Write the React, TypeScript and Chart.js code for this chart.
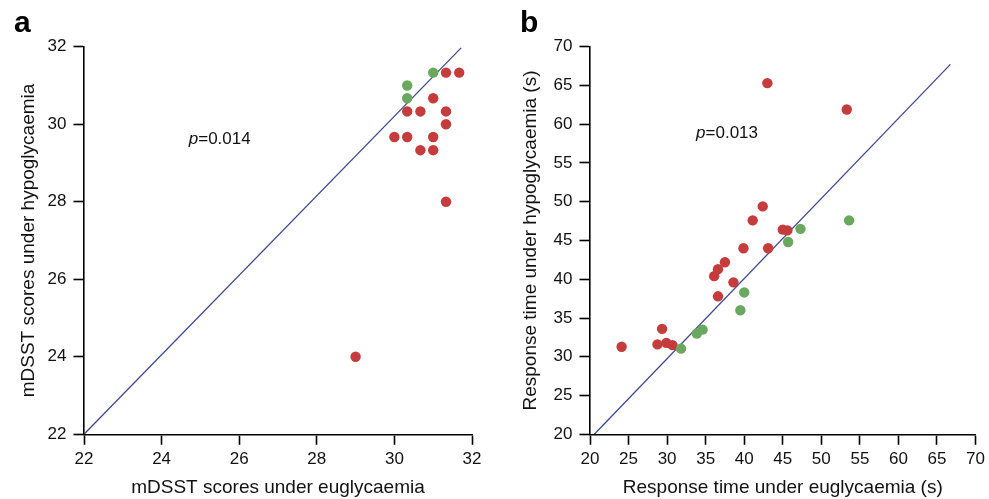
import React, { useEffect, useRef } from "react";
import { Chart, registerables } from "chart.js";

Chart.register(...registerables);

const FONT = "'Liberation Sans', Arial, Helvetica, sans-serif";
const RED = "#c43c3c";
const GREEN = "#6aa860";
const LINE = "#3f4a8c";

// Panel a: mDSST scores
const aRedEu = [31.33, 31.67, 31.0, 30.33, 30.67, 31.33, 31.33, 30.0, 30.33, 31.0, 30.67, 31.0, 31.33, 29.0];
const aRedHypo = [31.33, 31.33, 30.67, 30.33, 30.33, 30.33, 30.0, 29.67, 29.67, 29.67, 29.33, 29.33, 28.0, 24.0];
const aGreenEu = [30.33, 30.33, 31.0];
const aGreenHypo = [31.0, 30.67, 31.33];
const aLineX = [22, 31.72];
const aLineY = [22, 31.97];
const aTicks = [22, 24, 26, 28, 30, 32];

// Panel b: response time
const bRedEu = [43.0, 53.3, 42.4, 41.1, 45.0, 45.6, 39.9, 43.1, 37.5, 36.6, 36.1, 38.6, 36.6, 29.35, 28.75, 29.9, 30.7, 24.1];
const bRedHypo = [65.3, 61.9, 49.4, 47.6, 46.4, 46.3, 44.0, 44.0, 42.2, 41.3, 40.4, 39.6, 37.8, 33.6, 31.6, 31.8, 31.5, 31.3];
const bGreenEu = [47.3, 45.7, 40.0, 39.5, 34.6, 33.85, 31.8, 53.6];
const bGreenHypo = [46.5, 44.8, 38.3, 36.0, 33.5, 33.0, 31.05, 47.6];
const bLineX = [20.56, 66.74];
const bLineY = [20, 67.72];
const bTicks = [20, 25, 30, 35, 40, 45, 50, 55, 60, 65, 70];

const zip = (xs: number[], ys: number[]) => xs.map((x, i) => ({ x, y: ys[i] }));

type PanelCfg = {
  width: number;
  yAxisWidth: number;
  padRight: number;
  yTitlePad: number;
  label: string;
  labelX: number;
  pText: string;
  pX: number;
  pY: number;
  redEu: number[];
  redHypo: number[];
  greenEu: number[];
  greenHypo: number[];
  lineX: number[];
  lineY: number[];
  ticks: number[];
  xTitle: string;
  yTitle: string;
};

function Panel({ cfg }: { cfg: PanelCfg }) {
  const ref = useRef<HTMLCanvasElement | null>(null);
  useEffect(() => {
    if (!ref.current) return;
    const min = cfg.ticks[0];
    const max = cfg.ticks[cfg.ticks.length - 1];
    const step = cfg.ticks[1] - cfg.ticks[0];
    const annot = {
      id: "annot",
      afterDraw(chart: any) {
        const ctx = chart.ctx;
        ctx.save();
        ctx.fillStyle = "#000";
        ctx.font = `bold 30px ${FONT}`;
        ctx.textBaseline = "alphabetic";
        ctx.textAlign = "left";
        ctx.fillText(cfg.label, cfg.labelX, 31.5);
        const px = chart.scales.x.getPixelForValue(cfg.pX);
        const py = chart.scales.y.getPixelForValue(cfg.pY);
        ctx.textBaseline = "middle";
        ctx.fillStyle = "#111";
        ctx.font = `italic 17px ${FONT}`;
        ctx.fillText("p", px, py);
        const w = ctx.measureText("p").width;
        ctx.font = `17px ${FONT}`;
        ctx.fillText(cfg.pText, px + w, py);
        ctx.restore();
      },
    };
    const axisCommon = (title: string) => ({
      type: "linear" as const,
      min,
      max,
      ticks: {
        stepSize: step,
        color: "#111",
        font: { size: 17, family: FONT },
        padding: 6,
      },
      grid: {
        drawOnChartArea: false,
        drawTicks: true,
        tickLength: 10.5,
        tickColor: "#000",
        tickWidth: 1.6,
        color: "#000",
      },
      border: { display: true, color: "#000", width: 1.6 },
      title: {
        display: true,
        text: title,
        color: "#111",
        font: { size: 19, family: FONT },
      },
    });
    const xAxis: any = axisCommon(cfg.xTitle);
    xAxis.ticks.padding = 4;
    xAxis.title.padding = { top: 0, bottom: 0 };
    xAxis.afterFit = (s: any) => {
      s.height = 64.7;
    };
    const yAxis: any = axisCommon(cfg.yTitle);
    yAxis.ticks.padding = 7;
    yAxis.title.padding = { top: cfg.yTitlePad, bottom: 0 };
    yAxis.afterFit = (s: any) => {
      s.width = cfg.yAxisWidth;
    };
    const chart = new Chart(ref.current, {
      type: "scatter",
      data: {
        datasets: [
          {
            label: "identity",
            data: zip(cfg.lineX, cfg.lineY),
            showLine: true,
            borderColor: LINE,
            borderWidth: 1.3,
            pointRadius: 0,
            order: 3,
          } as any,
          {
            label: "red",
            data: zip(cfg.redEu, cfg.redHypo),
            backgroundColor: RED,
            borderWidth: 0,
            pointRadius: 5.2,
            order: 2,
          },
          {
            label: "green",
            data: zip(cfg.greenEu, cfg.greenHypo),
            backgroundColor: GREEN,
            borderWidth: 0,
            pointRadius: 5.2,
            order: 1,
          },
        ],
      },
      options: {
        animation: false,
        responsive: false,
        maintainAspectRatio: false,
        layout: { padding: { left: 0, top: 46.7, right: cfg.padRight, bottom: 0 } },
        plugins: { legend: { display: false }, tooltip: { enabled: false } },
        scales: { x: xAxis, y: yAxis },
      },
      plugins: [annot],
    });
    return () => chart.destroy();
  }, [cfg]);
  return (
    <canvas
      ref={ref}
      width={cfg.width}
      height={499}
      style={{ width: cfg.width, height: 499, display: "block" }}
    />
  );
}

const panelA: PanelCfg = {
  width: 495,
  yAxisWidth: 84,
  padRight: 23,
  yTitlePad: 17.5,
  label: "a",
  labelX: 14,
  pText: "=0.014",
  pX: 24.7,
  pY: 29.6,
  redEu: aRedEu,
  redHypo: aRedHypo,
  greenEu: aGreenEu,
  greenHypo: aGreenHypo,
  lineX: aLineX,
  lineY: aLineY,
  ticks: aTicks,
  xTitle: "mDSST scores under euglycaemia",
  yTitle: "mDSST scores under hypoglycaemia",
};

const panelB: PanelCfg = {
  width: 494,
  yAxisWidth: 95,
  padRight: 10.3,
  yTitlePad: 24.6,
  label: "b",
  labelX: 25,
  pText: "=0.013",
  pX: 33.76,
  pY: 58.8,
  redEu: bRedEu,
  redHypo: bRedHypo,
  greenEu: bGreenEu,
  greenHypo: bGreenHypo,
  lineX: bLineX,
  lineY: bLineY,
  ticks: bTicks,
  xTitle: "Response time under euglycaemia (s)",
  yTitle: "Response time under hypoglycaemia (s)",
};

export default function App() {
  return (
    <div
      style={{
        position: "fixed",
        left: 0,
        top: 0,
        width: 989,
        height: 499,
        background: "#fff",
        display: "flex",
      }}
    >
      <Panel cfg={panelA} />
      <Panel cfg={panelB} />
    </div>
  );
}
